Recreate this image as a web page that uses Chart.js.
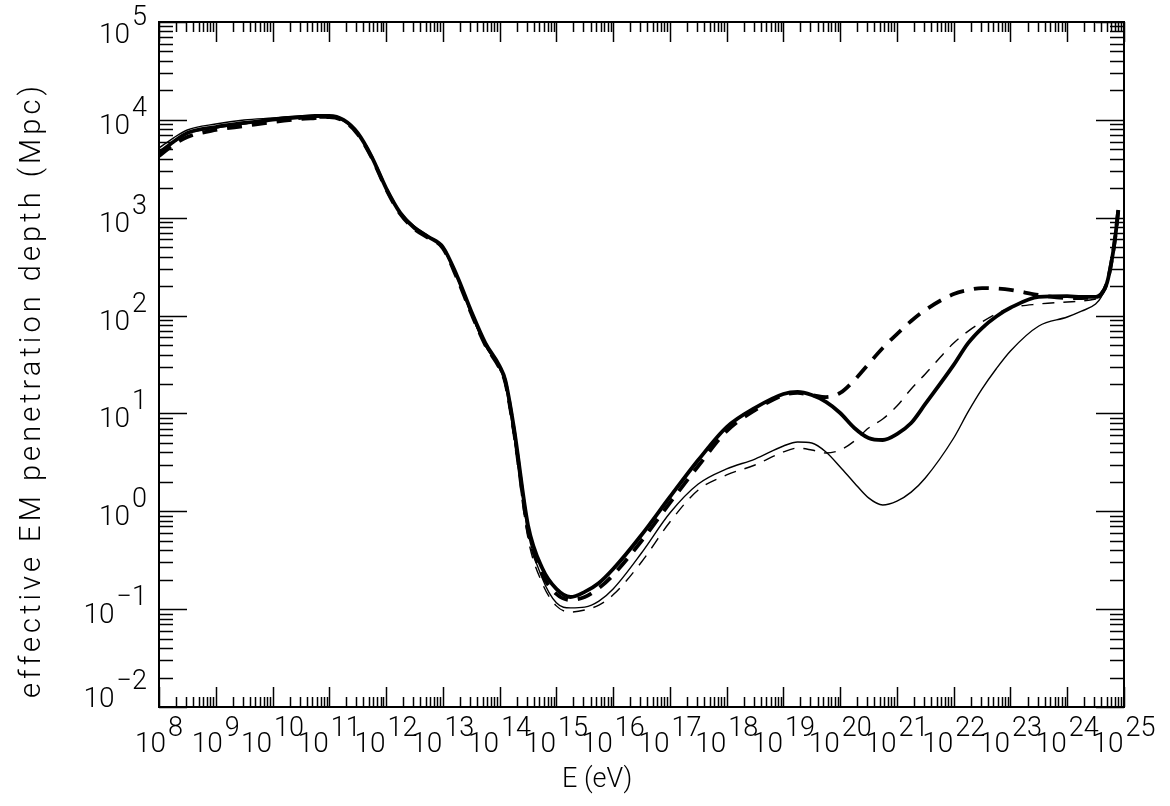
<!DOCTYPE html>
<html>
<head>
<meta charset="utf-8">
<script src="https://cdn.jsdelivr.net/npm/chart.js@4/dist/chart.umd.min.js"></script>
<style>
  html, body { margin: 0; padding: 0; background: #fff; }
  #wrap { width: 1170px; height: 806px; }
</style>
</head>
<body>
<div id="wrap"><canvas id="c" width="1170" height="806"></canvas></div>
<script>
// Photon energy grid (eV)
const energyEV = [
  1e8, 1.78e8, 3.16e8, 1e9, 3.16e9, 1e10, 3.16e10, 5.62e10,
  1e11, 1.78e11, 3.16e11, 5.62e11, 1e12, 1.78e12, 3.16e12, 5.62e12,
  1e13, 1.78e13, 3.16e13, 5.62e13, 1e14, 1.26e14, 1.78e14, 3.16e14, 5.62e14,
  1e15, 1.78e15, 3.16e15, 5.62e15, 1e16, 3.16e16, 1e17, 3.16e17, 1e18, 3.16e18,
  1e19, 1.78e19, 3.16e19, 5.62e19, 1e20, 1.78e20, 3.16e20, 5.62e20,
  1e21, 1.78e21, 3.16e21, 1e22, 1.78e22, 3.16e22, 5.62e22, 1e23, 3.16e23,
  1e24, 1.78e24, 3.16e24, 3.98e24, 5.01e24, 6.31e24, 7.08e24, 7.94e24
];

// Effective EM penetration depth (Mpc) for the four cases
const depthThinSolid = [
  5160, 6520, 7880, 9070, 9970, 10450, 10950, 11080,
  10950, 9970, 7340, 4170, 2010, 1144, 823, 650,
  490, 242, 103.8, 48.9, 29.1, 19.5, 6.02, 0.614, 0.208,
  0.116, 0.103, 0.105, 0.121, 0.161, 0.375, 0.961, 1.90, 2.71, 3.42,
  4.65, 5.11, 4.99, 4.04, 2.84, 1.95, 1.37, 1.16,
  1.27, 1.57, 2.19, 5.61, 10.3, 17.8, 28.6, 43.5, 78.2,
  96.7, 111, 131, 155, 215, 416, 666, 1200
];
const depthThinDashed = [
  4480, 5800, 7170, 8260, 9070, 9730, 10200, 10450,
  10450, 9730, 7170, 4080, 1970, 1091, 785, 635,
  490, 242, 103.8, 48.9, 28.4, 19.5, 5.74, 0.533, 0.185,
  0.108, 0.0935, 0.098, 0.110, 0.140, 0.303, 0.777, 1.65, 2.35, 2.97,
  4.04, 4.43, 4.23, 3.94, 4.23, 5.23, 7.10, 8.77,
  11.9, 17.8, 25.3, 52.4, 69.0, 86.0, 104, 119.5, 131.3,
  137.6, 140.9, 147.7, 155, 215, 416, 666, 1200
];
const depthThickSolid = [
  4580, 5940, 7340, 8450, 9290, 10080, 10700, 10950,
  10950, 9970, 7340, 4170, 2010, 1120, 785, 635,
  502, 254, 111, 52.4, 30.5, 21.9, 7.26, 0.724, 0.263,
  0.161, 0.133, 0.150, 0.185, 0.257, 0.573, 1.40, 3.34, 7.26, 11.4,
  15.8, 16.6, 15.4, 13.1, 10.1, 7.10, 5.61, 5.35,
  6.16, 7.98, 12.5, 31.3, 52.0, 74.6, 98.0, 120, 155,
  158, 155, 155, 166, 215, 416, 666, 1200
];
const depthThickDashed = [
  4270, 5540, 6680, 7880, 8650, 9510, 10200, 10450,
  10700, 9730, 7170, 4080, 1970, 1091, 767, 620,
  490, 242, 106, 50.0, 29.1, 20.9, 6.77, 0.644, 0.229,
  0.143, 0.124, 0.133, 0.164, 0.223, 0.497, 1.22, 2.90, 6.61, 10.8,
  15.4, 16.2, 15.4, 14.7, 16.2, 21.9, 32.0, 46.6,
  64.8, 88.0, 114, 166, 182, 191, 189, 183, 162,
  151, 151, 155, 166, 215, 416, 666, 1200
];

// Axis decades (powers of ten)
const xExponents = [8, 9, 10, 11, 12, 13, 14, 15, 16, 17, 18, 19, 20, 21, 22, 23, 24, 25];
const yExponents = [-2, -1, 0, 1, 2, 3, 4, 5];

const xTitle = 'E (eV)';
const yTitle = 'effective EM penetration depth (Mpc)';

const FONT = 'Roboto, "DejaVu Sans", sans-serif';

function series(values) {
  return energyEV.map((e, i) => ({ x: e, y: values[i] }));
}

function supText(ctx, base, sup, x, yBase, ySup, align, baseSize, supSize) {
  ctx.font = `300 ${baseSize}px ${FONT}`;
  const wb = ctx.measureText(base).width;
  ctx.font = `300 ${supSize}px ${FONT}`;
  const ws = ctx.measureText(sup).width;
  const gap = 2;
  const total = wb + gap + ws;
  const start = align === 'center' ? x - total / 2 : x - total;
  ctx.textAlign = 'left';
  ctx.textBaseline = 'alphabetic';
  ctx.font = `300 ${baseSize}px ${FONT}`;
  ctx.fillText(base, start, yBase);
  ctx.font = `300 ${supSize}px ${FONT}`;
  ctx.fillText(sup, start + wb + gap, ySup);
}

// Text spread to a given overall length, centred on (0,0) of the current transform
function spreadText(ctx, text, length) {
  ctx.letterSpacing = '0px';
  const w = ctx.measureText(text).width;
  const sp = Math.max(0, (length - w) / (text.length - 1));
  ctx.letterSpacing = sp.toFixed(2) + 'px';
  ctx.textAlign = 'left';
  ctx.fillText(text, -length / 2, 0);
  ctx.letterSpacing = '0px';
}

// Boxed frame with inward log ticks and 10^n labels
const framePlugin = {
  id: 'frame',
  afterDraw(chart) {
    const { ctx, chartArea: a, scales: { x, y } } = chart;
    ctx.save();
    ctx.strokeStyle = '#000';
    ctx.fillStyle = '#000';
    ctx.lineWidth = 2;
    ctx.strokeRect(a.left, a.top, a.right - a.left, a.bottom - a.top);

    ctx.lineWidth = 1.5;
    const seg = (x1, y1, x2, y2) => {
      ctx.beginPath(); ctx.moveTo(x1, y1); ctx.lineTo(x2, y2); ctx.stroke();
    };
    const xMin = xExponents[0], xMax = xExponents[xExponents.length - 1];
    for (let e = xMin; e <= xMax; e++) {
      for (let m = 1; m < 10; m++) {
        if (e === xMax && m > 1) break;
        const px = Math.round(x.getPixelForValue(m * Math.pow(10, e))) + 0.5;
        const len = m === 1 ? 20 : 10;
        seg(px, a.bottom, px, a.bottom - len);
        seg(px, a.top, px, a.top + len);
      }
    }
    const yMin = yExponents[0], yMax = yExponents[yExponents.length - 1];
    for (let e = yMin; e <= yMax; e++) {
      for (let m = 1; m < 10; m++) {
        if (e === yMax && m > 1) break;
        const py = Math.round(y.getPixelForValue(m * Math.pow(10, e))) + 0.5;
        const len = m === 1 ? 28 : 14;
        seg(a.left, py, a.left + len, py);
        seg(a.right, py, a.right - len, py);
      }
    }

    // x tick labels
    xExponents.forEach(e => {
      const px = x.getPixelForValue(Math.pow(10, e));
      supText(ctx, '10', String(e), px, a.bottom + 45, a.bottom + 29, 'center', 28, 27);
    });
    // y tick labels
    yExponents.forEach((e, i) => {
      const py = y.getPixelForValue(Math.pow(10, e));
      let off = 14;
      if (i === yExponents.length - 1) off = 21;
      if (i === 0) off = 0;
      const s = e < 0 ? '\u2212' + Math.abs(e) : String(e);
      supText(ctx, '10', s, 147, py + off, py + off - 18, 'right', 28, 27);
    });

    // axis titles
    ctx.textBaseline = 'alphabetic';
    ctx.font = `300 27px ${FONT}`;
    ctx.save();
    ctx.translate(597, 787);
    spreadText(ctx, xTitle, 70);
    ctx.restore();
    ctx.font = `300 29px ${FONT}`;
    ctx.save();
    ctx.translate(40, 392);
    ctx.rotate(-Math.PI / 2);
    spreadText(ctx, yTitle, 612);
    ctx.restore();
    ctx.restore();
  }
};

new Chart(document.getElementById('c'), {
  type: 'line',
  data: {
    datasets: [
      { data: series(depthThinSolid), borderColor: '#000', borderWidth: 1.4 },
      { data: series(depthThinDashed), borderColor: '#000', borderWidth: 1.4, borderDash: [12, 9] },
      { data: series(depthThickSolid), borderColor: '#000', borderWidth: 3.8 },
      { data: series(depthThickDashed), borderColor: '#000', borderWidth: 3.8, borderDash: [15, 10] }
    ]
  },
  options: {
    responsive: false,
    animation: false,
    devicePixelRatio: 1,
    layout: { padding: { left: 159, right: 46, top: 22, bottom: 99 } },
    elements: {
      point: { radius: 0 },
      line: { cubicInterpolationMode: 'monotone', fill: false, borderCapStyle: 'butt' }
    },
    scales: {
      x: { type: 'logarithmic', min: 1e8, max: 1e25, display: false },
      y: { type: 'logarithmic', min: 1e-2, max: 1e5, display: false }
    },
    plugins: { legend: { display: false }, tooltip: { enabled: false } }
  },
  plugins: [framePlugin]
});
</script>
</body>
</html>
